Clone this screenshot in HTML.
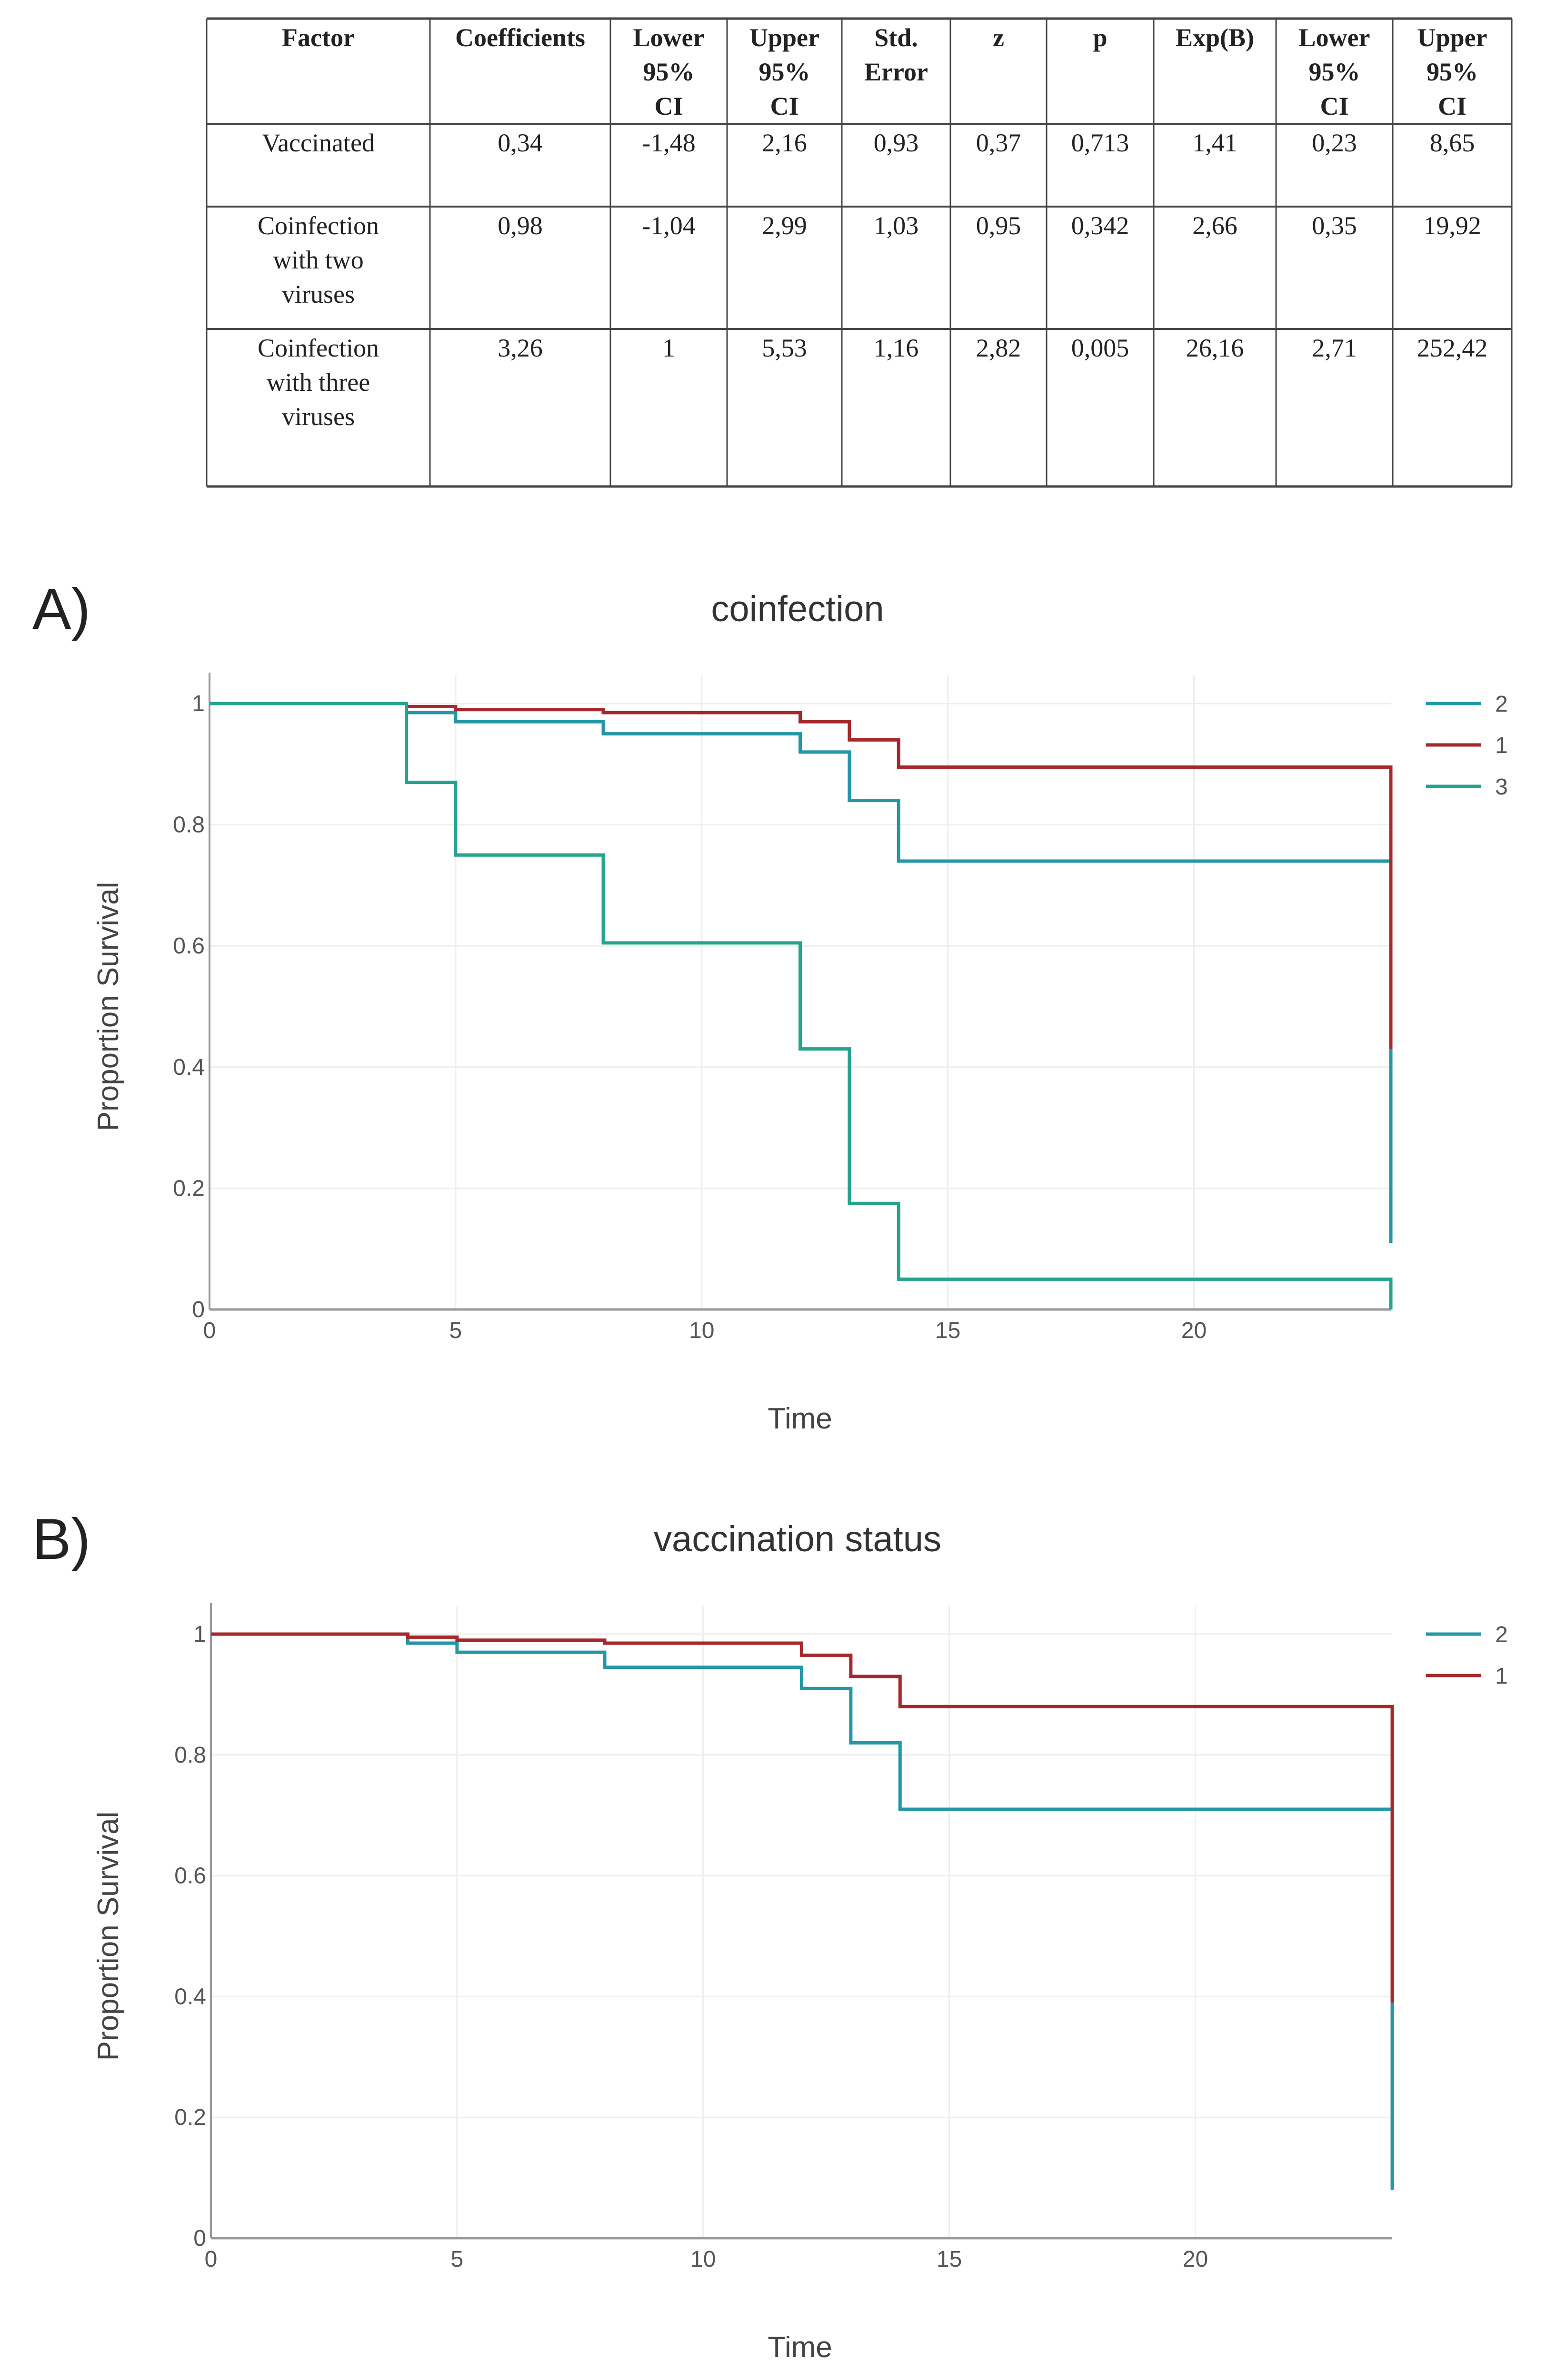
<!DOCTYPE html>
<html><head><meta charset="utf-8"><style>
html,body{margin:0;padding:0;background:#fff;width:3291px;height:5088px;overflow:hidden;}
svg{display:block;position:absolute;left:0;top:0;}
</style></head><body>
<svg id="root" width="3291" height="5088" viewBox="0 0 3291 5088" xmlns="http://www.w3.org/2000/svg">
<rect width="3291" height="5088" fill="#fff"/>
<g id="table"></g>
<g id="chartA"></g>
<g id="chartB"></g>
</svg>
<script>
const NS="http://www.w3.org/2000/svg";
function mk(parent,tag,attrs,text){const e=document.createElementNS(NS,tag);for(const k in attrs)e.setAttribute(k,attrs[k]);if(text!==undefined)e.textContent=text;parent.appendChild(e);return e;}

// ---------- table ----------
const tableHeaders=[["Factor"],["Coefficients"],["Lower","95%","CI"],["Upper","95%","CI"],["Std.","Error"],["z"],["p"],["Exp(B)"],["Lower","95%","CI"],["Upper","95%","CI"]];
const tableRows=[
 [["Vaccinated"],"0,34","-1,48","2,16","0,93","0,37","0,713","1,41","0,23","8,65"],
 [["Coinfection","with two","viruses"],"0,98","-1,04","2,99","1,03","0,95","0,342","2,66","0,35","19,92"],
 [["Coinfection","with three","viruses"],"3,26","1","5,53","1,16","2,82","0,005","26,16","2,71","252,42"]
];
const colX=[434,903,1282,1527,1768,1996,2198,2423,2680,2925,3175];
const rowY=[39,260,434,691,1022];
const T=document.getElementById('table');
for(let i=0;i<rowY.length;i++){const l=mk(T,'line',{x1:colX[0],x2:colX[colX.length-1],y1:rowY[i],y2:rowY[i],stroke:'#444','stroke-width':(i===0||i===rowY.length-1)?5:4});
}
for(let j=0;j<colX.length;j++){const l=mk(T,'line',{x1:colX[j],x2:colX[j],y1:rowY[0],y2:rowY[rowY.length-1],stroke:'#444','stroke-width':3});
}
const tf='font-family:"Liberation Serif",serif;font-size:54px;fill:#222';
function cell(lines,j,i,bold){const cx=(colX[j]+colX[j+1])/2;const t=mk(T,'text',{x:cx,y:rowY[i]+58,'text-anchor':'middle',style:tf+(bold?';font-weight:bold':'')});

lines.forEach((s,k)=>mk(t,'tspan',{x:cx,dy:k?72:0},s));}
tableHeaders.forEach((h,j)=>cell(h,j,0,true));
tableRows.forEach((r,i)=>r.forEach((v,j)=>cell(Array.isArray(v)?v:[v],j,i+1,false)));

// ---------- chart data ----------
const xTicks=[0,5,10,15,20];
const yTicks=[0,0.2,0.4,0.6,0.8,1];
const yTickLabels=["0","0.2","0.4","0.6","0.8","1"];
const stepTimes=[0,4,5,8,12,13,14,24];
const A_names=["2","1","3"];
const A_s2=[1,0.985,0.97,0.95,0.92,0.84,0.74,0.11];
const A_s1=[1,0.995,0.99,0.985,0.97,0.94,0.895,0.43];
const A_s3=[1,0.87,0.75,0.605,0.43,0.175,0.05,0];
const B_names=["2","1"];
const B_s2=[1,0.985,0.97,0.945,0.91,0.82,0.71,0.08];
const B_s1=[1,0.995,0.99,0.985,0.965,0.93,0.88,0.39];
const colors={"2":"#2596a6","1":"#a4282c","3":"#26a38c"};

function chart(g,o){
 const x=v=>o.x0+v*(o.x24-o.x0)/24;
 const y=v=>o.y0-v*(o.y0-o.y1);
 let t=mk(g,'text',{x:68,y:o.titleY+42,style:'font-family:"Liberation Sans",sans-serif;font-size:122px;fill:#222'},o.panel);
 
 t=mk(g,'text',{x:1675,y:o.titleY+26,'text-anchor':'middle',style:'font-family:"Liberation Sans",sans-serif;font-size:76px;fill:#333'},o.title);
 
 xTicks.forEach(v=>{if(v>0){const l=mk(g,'line',{x1:x(v),x2:x(v),y1:o.y1-60,y2:o.y0,stroke:'#eee','stroke-width':3});
 }
 const tl=mk(g,'text',{x:x(v),y:o.y0+60,'text-anchor':'middle',style:'font-family:"Liberation Sans",sans-serif;font-size:48px;fill:#555'},String(v));
 });
 yTicks.forEach((v,i)=>{if(v>0){const l=mk(g,'line',{x1:o.x0,x2:x(24),y1:y(v),y2:y(v),stroke:'#eee','stroke-width':3});
 }
 const tl=mk(g,'text',{x:o.x0-10,y:y(v)+16,'text-anchor':'end',style:'font-family:"Liberation Sans",sans-serif;font-size:48px;fill:#555'},yTickLabels[i]);
 });
 let a=mk(g,'line',{x1:o.x0,x2:o.x0,y1:o.y1-65,y2:o.y0,stroke:'#999','stroke-width':4});
 
 a=mk(g,'line',{x1:o.x0,x2:x(24),y1:o.y0,y2:o.y0,stroke:'#999','stroke-width':5});
 
 t=mk(g,'text',{x:0,y:0,'text-anchor':'middle',transform:`translate(248,${(o.y0+o.y1)/2}) rotate(-90)`,style:'font-family:"Liberation Sans",sans-serif;font-size:62px;fill:#444'},'Proportion Survival');
 
 t=mk(g,'text',{x:1680,y:o.y0+250,'text-anchor':'middle',style:'font-family:"Liberation Sans",sans-serif;font-size:62px;fill:#444'},'Time');
 
 o.series.forEach((s,si)=>{
  const vals=s.vals;let d=`M${x(stepTimes[0])},${y(vals[0])}`;
  for(let k=1;k<stepTimes.length;k++){d+=` L${x(stepTimes[k])},${y(vals[k-1])} L${x(stepTimes[k])},${y(vals[k])}`;}
  const p=mk(g,'path',{d:d,fill:'none',stroke:colors[s.name],'stroke-width':7,'stroke-linejoin':'miter'});
  
  const ly=o.legendY+si*87;
  const ll=mk(g,'line',{x1:2995,x2:3111,y1:ly,y2:ly,stroke:colors[s.name],'stroke-width':7});
  
  const lt=mk(g,'text',{x:3140,y:ly+17,style:'font-family:"Liberation Sans",sans-serif;font-size:48px;fill:#555'},s.name);
  
 });
}
chart(document.getElementById('chartA'),{panel:'A)',title:'coinfection',titleY:1279,x0:440,x24:2921,y0:2751,y1:1478,legendY:1478,
 series:[{name:A_names[0],vals:A_s2},{name:A_names[1],vals:A_s1},{name:A_names[2],vals:A_s3}]});
chart(document.getElementById('chartB'),{panel:'B)',title:'vaccination status',titleY:3233,x0:443,x24:2924,y0:4702,y1:3433,legendY:3433,
 series:[{name:B_names[0],vals:B_s2},{name:B_names[1],vals:B_s1}]});
</script>
</body></html>
